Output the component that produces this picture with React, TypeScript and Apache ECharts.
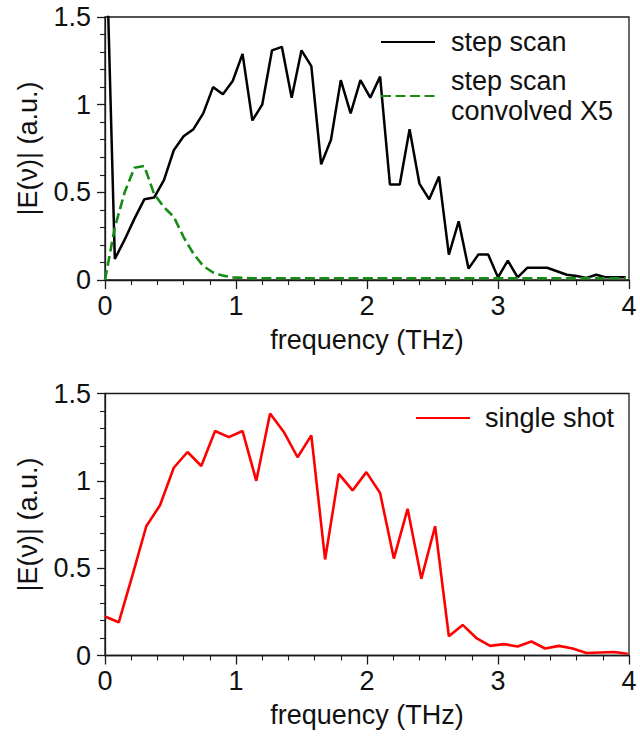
import React, { useEffect, useRef } from "react";
import * as echarts from "echarts";

// ---- data ----
const freqStep = [
  0, 0.075, 0.15, 0.225, 0.3, 0.375, 0.45, 0.525, 0.6, 0.675, 0.75, 0.825, 0.9, 0.975,
  1.05, 1.125, 1.2, 1.275, 1.35, 1.425, 1.5, 1.575, 1.65, 1.725, 1.8, 1.875, 1.95, 2.025,
  2.1, 2.175, 2.25, 2.325, 2.4, 2.475, 2.55, 2.625, 2.7, 2.775, 2.85, 2.925, 3.0, 3.075,
  3.15, 3.225, 3.3, 3.375, 3.45, 3.525, 3.6, 3.675, 3.75, 3.825, 3.9, 3.975,
];
const stepScan = [
  2.2, 0.12, 0.23, 0.35, 0.46, 0.47, 0.57, 0.74, 0.82, 0.86, 0.95, 1.1, 1.06, 1.135,
  1.29, 0.91, 1.0, 1.31, 1.33, 1.04, 1.31, 1.22, 0.66, 0.8, 1.14, 0.95, 1.14, 1.04,
  1.16, 0.545, 0.545, 0.86, 0.55, 0.46, 0.59, 0.145, 0.335, 0.065, 0.145, 0.145, 0.015, 0.11,
  0.015, 0.07, 0.07, 0.07, 0.05, 0.03, 0.023, 0.012, 0.03, 0.015, 0.015, 0.015,
];
const stepConvolved = [
  0, 0.3, 0.5, 0.64, 0.65, 0.49, 0.415, 0.36, 0.245, 0.15, 0.08, 0.043, 0.025, 0.015,
  0.012, 0.01, 0.01, 0.01, 0.01, 0.01, 0.01, 0.01, 0.01, 0.01, 0.01, 0.01, 0.01, 0.01,
  0.01, 0.01, 0.01, 0.01, 0.01, 0.01, 0.01, 0.01, 0.01, 0.01, 0.01, 0.01, 0.01, 0.01,
  0.01, 0.01, 0.01, 0.01, 0.01, 0.01, 0.01, 0.01, 0.01, 0.01, 0.01, 0.01,
];
const freqShot = [
  0, 0.105, 0.21, 0.315, 0.42, 0.525, 0.63, 0.735, 0.84, 0.945, 1.05, 1.155, 1.26,
  1.365, 1.47, 1.575, 1.68, 1.785, 1.89, 1.995, 2.1, 2.205, 2.31, 2.415, 2.52, 2.625,
  2.73, 2.835, 2.94, 3.045, 3.15, 3.255, 3.36, 3.465, 3.57, 3.675, 3.78, 3.885, 3.99,
];
const singleShot = [
  0.223, 0.19, 0.46, 0.74, 0.86, 1.075, 1.165, 1.085, 1.285, 1.25, 1.285, 1.0, 1.385,
  1.28, 1.135, 1.26, 0.55, 1.04, 0.945, 1.05, 0.93, 0.555, 0.84, 0.44, 0.74, 0.11,
  0.175, 0.1, 0.055, 0.065, 0.052, 0.08, 0.04, 0.055, 0.04, 0.014, 0.017, 0.02, 0.01,
];
const seriesNames = ["step scan", "step scan\nconvolved X5", "single shot"];
const xAxisName = "frequency (THz)";
const yAxisName = "|E(ν)| (a.u.)";

const FONT = "'Liberation Sans', Arial, Helvetica, sans-serif";
const AX = "#1a1a1a";

const pairs = (xs: number[], ys: number[]) => xs.map((x, i) => [x, ys[i]]);

function xAxisCfg(gridIndex: number) {
  return {
    type: "value",
    gridIndex,
    min: 0,
    max: 4,
    interval: 1,
    name: xAxisName,
    nameLocation: "middle",
    nameGap: 46,
    nameTextStyle: { fontSize: 27, color: "#111", fontFamily: FONT },
    axisLine: { show: true, onZero: false, lineStyle: { color: AX, width: 1.3 } },
    axisTick: { show: true, length: 9, lineStyle: { color: AX, width: 1.3 } },
    minorTick: { show: true, splitNumber: 5, length: 5, lineStyle: { color: AX, width: 1.1 } },
    splitLine: { show: false },
    minorSplitLine: { show: false },
    axisLabel: { fontSize: 27, color: "#111", fontFamily: FONT, margin: 12 },
  };
}
function yAxisCfg(gridIndex: number) {
  return {
    type: "value",
    gridIndex,
    min: 0,
    max: 1.5,
    interval: 0.5,
    name: yAxisName,
    nameLocation: "middle",
    nameGap: 64,
    nameTextStyle: { fontSize: 27, color: "#111", fontFamily: FONT },
    axisLine: { show: true, onZero: false, lineStyle: { color: AX, width: 1.3 } },
    axisTick: { show: true, length: 8, lineStyle: { color: AX, width: 1.3 } },
    minorTick: { show: true, splitNumber: 5, length: 5, lineStyle: { color: AX, width: 1.1 } },
    splitLine: { show: false },
    minorSplitLine: { show: false },
    axisLabel: { fontSize: 27, color: "#111", fontFamily: FONT, margin: 14 },
  };
}

const hiddenMarker = { color: "rgba(0,0,0,0)", borderWidth: 0, opacity: 0 };

export default function App() {
  const ref = useRef<HTMLDivElement>(null);
  useEffect(() => {
    document.body.style.margin = "0";
    if (!ref.current) return;
    const chart = echarts.init(ref.current, undefined, { renderer: "svg" });
    chart.setOption({
      animation: false,
      backgroundColor: "#fff",
      textStyle: { fontFamily: FONT },
      grid: [
        { left: 105, top: 17, width: 524, height: 263, show: true, borderColor: AX, borderWidth: 1.3, backgroundColor: "transparent" },
        { left: 105, top: 393.5, width: 524, height: 262, show: true, borderColor: AX, borderWidth: 1.3, backgroundColor: "transparent" },
      ],
      xAxis: [xAxisCfg(0), xAxisCfg(1)],
      yAxis: [yAxisCfg(0), yAxisCfg(1)],
      legend: [
        {
          data: [seriesNames[0], seriesNames[1]],
          orient: "vertical",
          left: 380,
          top: 27,
          itemWidth: 54,
          itemHeight: 14,
          itemGap: 9,
          padding: 0,
          selectedMode: false,
          itemStyle: hiddenMarker,
          textStyle: { fontSize: 27, lineHeight: 30, color: "#111", fontFamily: FONT, padding: [0, 0, 0, 11] },
        },
        {
          data: [seriesNames[2]],
          orient: "vertical",
          left: 415,
          top: 403,
          itemWidth: 54,
          itemHeight: 14,
          padding: 0,
          selectedMode: false,
          itemStyle: hiddenMarker,
          textStyle: { fontSize: 27, lineHeight: 30, color: "#111", fontFamily: FONT, padding: [0, 0, 0, 10] },
        },
      ],
      series: [
        {
          name: seriesNames[0],
          type: "line",
          xAxisIndex: 0,
          yAxisIndex: 0,
          data: pairs(freqStep, stepScan),
          symbol: "none",
          clip: true,
          color: "#000",
          lineStyle: { color: "#000", width: 2.5 },
        },
        {
          name: seriesNames[1],
          type: "line",
          xAxisIndex: 0,
          yAxisIndex: 0,
          data: pairs(freqStep, stepConvolved),
          symbol: "none",
          clip: true,
          color: "#168c16",
          lineStyle: { color: "#168c16", width: 2.6, type: [10, 4.5] },
        },
        {
          name: seriesNames[2],
          type: "line",
          xAxisIndex: 1,
          yAxisIndex: 1,
          data: pairs(freqShot, singleShot),
          symbol: "none",
          clip: true,
          color: "#ff0000",
          lineStyle: { color: "#ff0000", width: 2.6 },
        },
      ],
    });
    return () => chart.dispose();
  }, []);
  return <div ref={ref} style={{ width: 640, height: 738 }} />;
}
